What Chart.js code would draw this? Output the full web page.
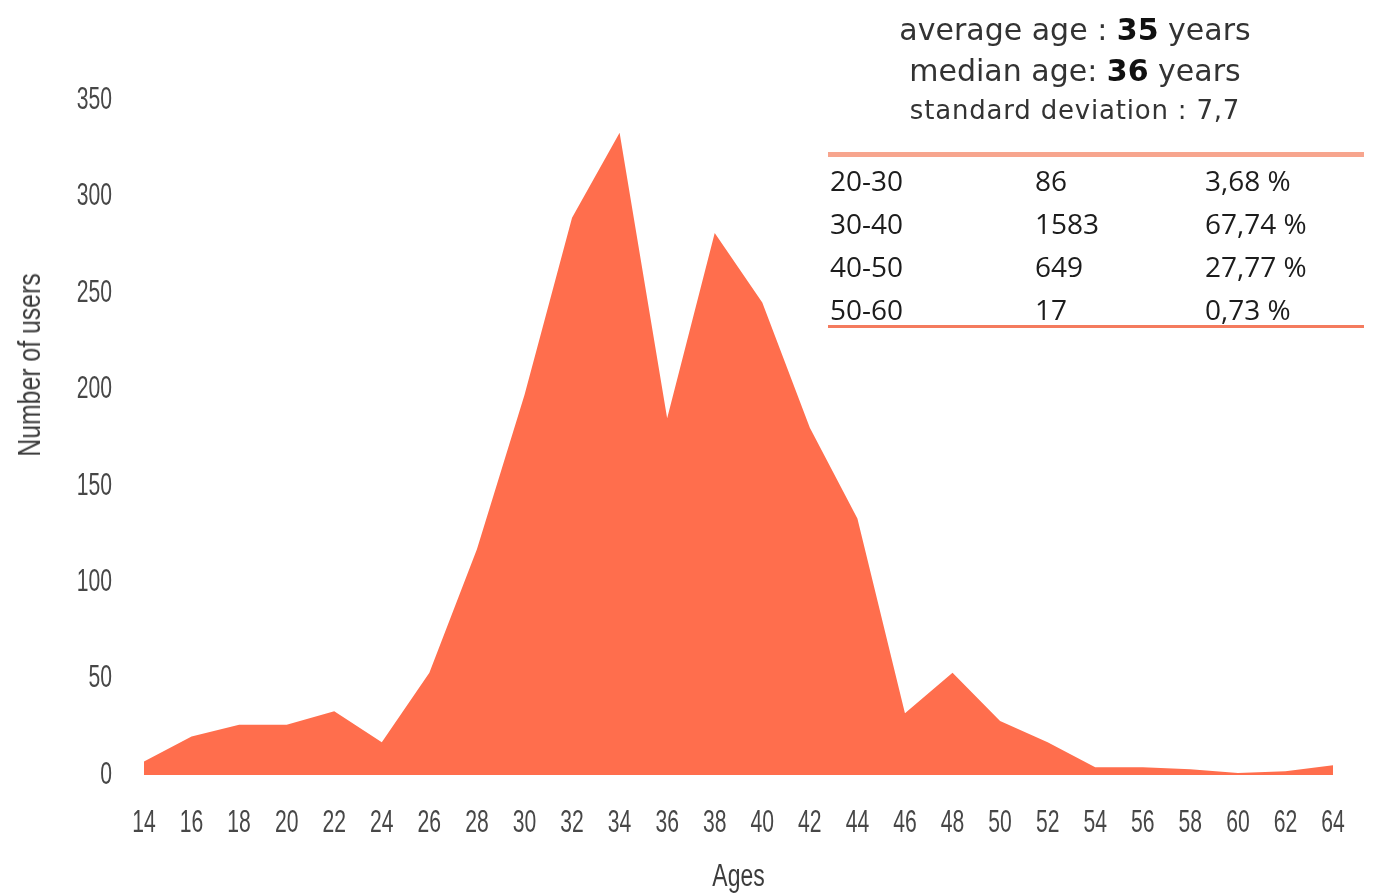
<!DOCTYPE html>
<html>
<head>
<meta charset="utf-8">
<script src="https://cdn.jsdelivr.net/npm/chart.js@4"></script>
<style>
  body { margin: 0; background: #fff; }
  #wrap { position: relative; width: 1384px; height: 893px; overflow: hidden; }
  #chart { position: absolute; left: 0; top: 0; }
  .stats { position: absolute; left: 830px; width: 490px; text-align: center; font-family: "DejaVu Sans", sans-serif; color: #333; white-space: nowrap; line-height: 1.16; }
  .stats b { font-weight: 700; color: #111; }
  .rule { position: absolute; left: 828px; width: 536px; }
  .cell { position: absolute; font-family: "Open Sans", sans-serif; font-size: 28px; color: #1c1c1c; line-height: 32px; white-space: nowrap; }
  #ytitle { position: absolute; left: 30px; top: 365px; font-family: "Liberation Sans", Arial, sans-serif; font-size: 31px; color: #3c3c3c; white-space: nowrap; transform: translate(-50%, -50%) rotate(-90deg) scaleX(0.8); }
</style>
</head>
<body>
<div id="wrap">
  <canvas id="chart" width="1384" height="893"></canvas>
  <div id="ytitle">Number of users</div>
</div>
<script>
// ages on the x axis, users per age
ages = [14,16,18,20,22,24,26,28,30,32,34,36,38,40,42,44,46,48,50,52,54,56,58,60,62,64]
users = [7,20,26,26,33,17,53,117,197,289,333,185,281,245,180,133,32,53,28,17,4,4,3,1,2,5]
yTicks = [0,50,100,150,200,250,300,350]

// summary text and the age-group table
statLines = [
	['average age : ', '35', ' years'],
	['median age: ', '36', ' years'],
	['standard deviation : 7,7', '', '']
]
groupRanges = ['20-30','30-40','40-50','50-60']
groupCounts = ['86','1583','649','17']
groupShares = ['3,68 %','67,74 %','27,77 %','0,73 %']

function buildOverlay(){
	wrap = document.getElementById('wrap')
	statTops = [13, 54, 95]
	statSizes = [30, 30, 26]
	for (i = 0; i < statLines.length; i++) {
		d = document.createElement('div')
		d.className = 'stats'
		d.style.top = statTops[i] + 'px'
		d.style.fontSize = statSizes[i] + 'px'
		if (i == 2) d.style.letterSpacing = '0.8px'
		d.appendChild(document.createTextNode(statLines[i][0]))
		if (statLines[i][1]) {
			b = document.createElement('b')
			b.textContent = statLines[i][1]
			d.appendChild(b)
		}
		d.appendChild(document.createTextNode(statLines[i][2]))
		wrap.appendChild(d)
	}
	//orange rules above and below the table
	r1 = document.createElement('div')
	r1.className = 'rule'
	r1.style.top = '152px'; r1.style.height = '5px'; r1.style.background = '#f7a58e'
	wrap.appendChild(r1)
	r2 = document.createElement('div')
	r2.className = 'rule'
	r2.style.top = '325px'; r2.style.height = '3px'; r2.style.background = '#f47b5e'
	wrap.appendChild(r2)

	cols = [groupRanges, groupCounts, groupShares]
	colX = [830, 1035, 1205]
	for (c = 0; c < cols.length; c++) {
		for (r = 0; r < cols[c].length; r++) {
			t = document.createElement('div')
			t.className = 'cell'
			t.textContent = cols[c][r]
			t.style.left = colX[c] + 'px'
			t.style.top = (164 + r * 43) + 'px'
			wrap.appendChild(t)
		}
	}
}

buildOverlay()

// the axis font in the picture is a tall condensed face, none is installed,
// so squeeze the canvas text horizontally
condense = {
	id: 'condense',
	beforeDraw(chart) {
		const c = chart.ctx
		if (c._condensed) return
		const plainFill = c.fillText.bind(c)
		c.fillText = function(text, x, y) {
			const k = /^\d+$/.test(text) ? 0.66 : 0.74
			c.save()
			c.translate(x, y)
			c.scale(k, 1)
			plainFill(text, 0, 0)
			c.restore()
		}
		c._condensed = true
	}
}

sans = '"Liberation Sans", Arial, sans-serif'

const ctx = document.getElementById('chart').getContext('2d')
const ageChart = new Chart(ctx, {
	type: 'line',
	data: {
		labels: ages,
		datasets: [{
			label: 'Users',
			data: users,
			fill: 'origin',
			backgroundColor: 'rgb(255,110,77)',
			borderWidth: 0,
			pointRadius: 0,
			tension: 0
		}]
	},
	options: {
		responsive: false,
		animation: false,
		layout: { padding: { top: 100, right: 51, bottom: 0, left: 0 } },
		plugins: { legend: { display: false }, tooltip: { enabled: false } },
		scales: {
			x: {
				offset: false,
				grid: { display: false, drawTicks: false },
				border: { display: false },
				ticks: { color: '#474747', font: { family: sans, size: 32 }, padding: 29, maxRotation: 0, autoSkip: false },
				title: { display: true, text: 'Ages', color: '#3c3c3c', font: { family: sans, size: 31, lineHeight: 1.0 }, padding: { top: 0, bottom: 0 } },
				afterFit: function(scale) { scale.height = 118 }
			},
			y: {
				min: 0,
				max: 350,
				afterBuildTicks: function(scale) { scale.ticks = yTicks.map(v => ({ value: v })) },
				grid: { display: false, drawTicks: false },
				border: { display: false },
				ticks: { color: '#474747', font: { family: sans, size: 32 }, padding: 32 },
				title: { display: false },
				afterFit: function(scale) { scale.width = 144 }
			}
		}
	},
	plugins: [condense]
});
</script>
</body>
</html>
